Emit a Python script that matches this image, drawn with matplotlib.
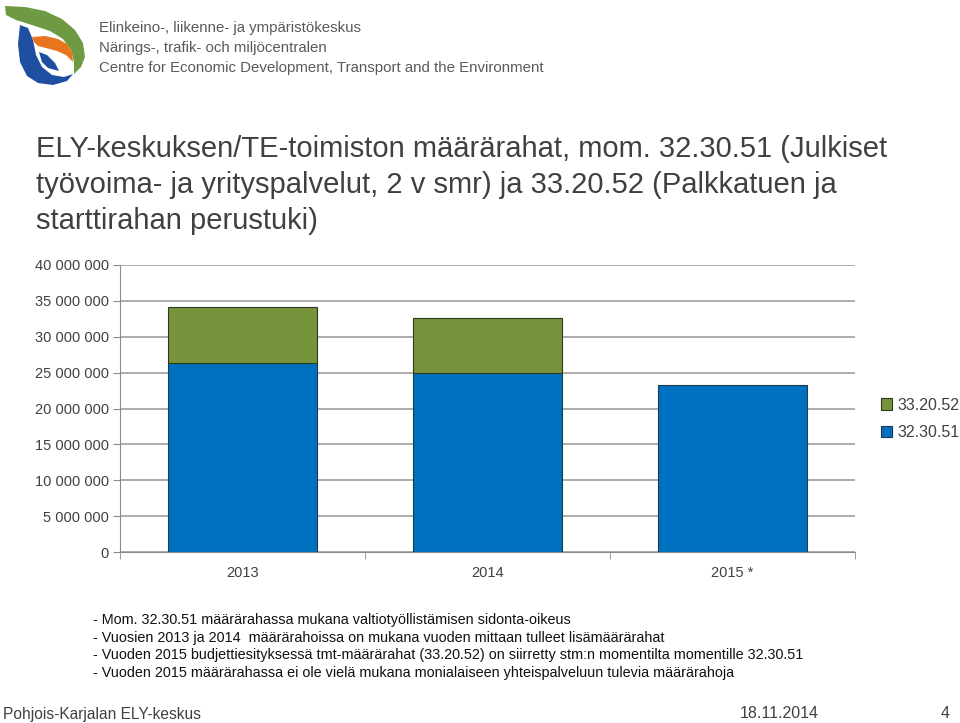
import numpy as np
import matplotlib.pyplot as plt
from matplotlib.patches import Polygon

plt.rcParams['font.family'] = ['Liberation Sans', 'DejaVu Sans']

# data
years = ['2013', '2014', '2015 *']
mom_323051 = [26.3e6, 24.9e6, 23.3e6]
mom_332052 = [7.9e6, 7.7e6, 0.0]
series_names = ['32.30.51', '33.20.52']
y_ticks = np.arange(0, 40e6 + 1, 5e6)

title = ('ELY-keskuksen/TE-toimiston määrärahat, mom. 32.30.51 (Julkiset\n'
         'työvoima- ja yrityspalvelut, 2 v smr) ja 33.20.52 (Palkkatuen ja\n'
         'starttirahan perustuki)')
notes = [
    '- Mom. 32.30.51 määrärahassa mukana valtiotyöllistämisen sidonta-oikeus',
    '- Vuosien 2013 ja 2014  määrärahoissa on mukana vuoden mittaan tulleet lisämäärärahat',
    '- Vuoden 2015 budjettiesityksessä tmt-määrärahat (33.20.52) on siirretty stm:n momentilta momentille 32.30.51',
    '- Vuoden 2015 määrärahassa ei ole vielä mukana monialaiseen yhteispalveluun tulevia määrärahoja',
]
org_lines = ['Elinkeino-, liikenne- ja ympäristökeskus',
             'Närings-, trafik- och miljöcentralen',
             'Centre for Economic Development, Transport and the Environment']

W, H = 960, 723
BLUE = '#0070C0'
GREEN = '#77933C'
GREY = '#404040'


def fx(x):
    return x / W


def fy(y):
    return 1 - y / H


fig = plt.figure(figsize=(9.6, 7.23), dpi=100)

# background layer in pixel coordinates, for the logo
bg = fig.add_axes([0, 0, 1, 1])
bg.set_xlim(0, W)
bg.set_ylim(H, 0)
bg.axis('off')

green_shape = [(5, 6), (25, 7), (45, 11), (62, 19), (75, 30), (83, 43), (85, 57),
               (81, 67), (74, 74), (74, 62), (71, 50), (63, 39), (50, 31), (32, 25),
               (16, 20), (6, 15)]
blue_shape = [(20, 25), (28, 28), (33, 40), (36, 55), (42, 67), (52, 75), (64, 77),
              (73, 74), (67, 81), (53, 85), (38, 83), (27, 76), (20, 62), (18, 44)]
blue_inner = [(39, 52), (47, 55), (55, 63), (59, 71), (48, 68), (42, 62)]
orange_shape = [(32, 37), (45, 36), (58, 39), (67, 44), (72, 52), (73, 62),
                (66, 55), (57, 51), (46, 48), (38, 46), (34, 42)]
bg.add_patch(Polygon(green_shape, closed=True, color='#6E9A44', lw=0))
bg.add_patch(Polygon(blue_shape, closed=True, color='#1F4FA0', lw=0))
bg.add_patch(Polygon(blue_inner, closed=True, color='#1F4FA0', lw=0))
bg.add_patch(Polygon(orange_shape, closed=True, color='#E8741E', lw=0))

for i, line in enumerate(org_lines):
    fig.text(fx(99), fy(28 + i * 20), line, fontsize=10.85, color='#5a5a5a',
             va='center', ha='left')

fig.text(fx(36), fy(185), title, fontsize=21, color=GREY, va='center',
         ha='left', linespacing=1.38)

# chart
ax = fig.add_axes([fx(120), fy(552), fx(855) - fx(120), fy(265) - fy(552)])
x = np.arange(len(years))
b1 = ax.bar(x, mom_323051, width=0.61, color=BLUE, edgecolor='#1f3a4d',
            linewidth=0.8, label=series_names[0], zorder=3)
b2 = ax.bar(x, mom_332052, width=0.61, bottom=mom_323051, color=GREEN,
            edgecolor='#2d3a1f', linewidth=0.8, label=series_names[1], zorder=3)
for rect, v in zip(b2, mom_332052):
    if v == 0:
        rect.set_visible(False)

ax.set_xlim(-0.5, len(years) - 0.5)
ax.set_ylim(0, 40e6)
ax.set_yticks(y_ticks)
ax.set_yticklabels(['{:,}'.format(int(v)).replace(',', ' ') for v in y_ticks])
ax.set_xticks(x)
ax.set_xticklabels(years)
ax.set_xticks(np.arange(-0.5, len(years)), minor=True)
ax.tick_params(axis='x', which='major', length=0, pad=10, labelsize=10.5,
               labelcolor=GREY)
ax.tick_params(axis='x', which='minor', length=5, color='#8c8c8c', direction='out')
ax.tick_params(axis='y', length=5, color='#8c8c8c', labelsize=10.5,
               labelcolor=GREY, pad=3)
ax.grid(axis='y', color='#a6a6a6', linewidth=1.3, zorder=0)
for side in ['top', 'right']:
    ax.spines[side].set_visible(False)
ax.spines['left'].set_color('#8c8c8c')
ax.spines['bottom'].set_color('#8c8c8c')

leg = ax.legend([b2, b1], [series_names[1], series_names[0]], loc='center left',
                bbox_to_anchor=(fx(873), fy(419)), bbox_transform=fig.transFigure,
                frameon=False, fontsize=11.5, handlelength=0.7, handleheight=0.7,
                handletextpad=0.3, labelspacing=0.8, borderpad=0)
for t in leg.get_texts():
    t.set_color(GREY)

for i, line in enumerate(notes):
    fig.text(fx(93), fy(620 + i * 17.7), line, fontsize=10.4,
             color='#111111', va='center', ha='left')

fig.text(fx(3), fy(714), 'Pohjois-Karjalan ELY-keskus', fontsize=11.2,
         color=GREY, va='center', ha='left')
fig.text(fx(740), fy(714), '18.11.2014', fontsize=11.5, color=GREY,
         va='center', ha='left')
fig.text(fx(945), fy(714), '4', fontsize=11.5, color=GREY,
         va='center', ha='center')

fig.savefig('out.png', dpi=100)
